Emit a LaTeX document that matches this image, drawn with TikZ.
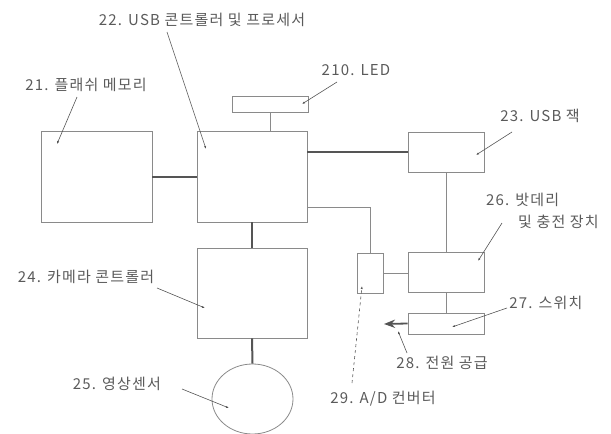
\documentclass[tikz,border=0pt]{standalone}
\usepackage{fontspec}
\setmainfont[LetterSpace=8]{Noto Sans CJK KR}
\usepackage{tikz}
\usetikzlibrary{arrows.meta,positioning,calc,shapes.geometric}
\definecolor{linegray}{HTML}{8A8A8A}
\definecolor{wiregray}{HTML}{555555}
\definecolor{textgray}{HTML}{5A5A5A}

\begin{document}
\begin{tikzpicture}[x=1pt,y=-1pt,>=Stealth,
    blk/.style={draw=linegray,line width=0.8pt,inner sep=0pt},
    wire/.style={draw=linegray,line width=0.8pt},
    bus/.style={draw=wiregray,line width=2pt},
    lbl/.style={text=textgray,font=\fontsize{15}{17}\selectfont,inner sep=1pt},
    lead/.style={draw=wiregray,line width=0.6pt,-{Latex[length=3pt,width=2.2pt]}}]
  \useasboundingbox (0,0) rectangle (611,434);
  % blocks
  \node[blk,minimum width=111pt,minimum height=91pt] (flash) at (96.5,176.5) {};
  \node[blk,minimum width=110pt,minimum height=91pt] (proc) at (252,176.5) {};
  \node[blk,minimum width=76pt,minimum height=16pt] (led) at (270,104) {};
  \node[blk,minimum width=76pt,minimum height=40pt] (jack) at (446,152) {};
  \node[blk,minimum width=76pt,minimum height=40pt] (batt) at (446,272) {};
  \node[blk,minimum width=26pt,minimum height=40pt] (adc) at (370,273) {};
  \node[blk,minimum width=76pt,minimum height=21pt] (sw) at (446,323.5) {};
  \node[blk,minimum width=110pt,minimum height=90pt] (cam) at (252,293) {};
  \node[blk,ellipse,minimum width=81pt,minimum height=70pt] (sens) at (252.5,399) {};
  \coordinate (pwr) at (384,324);
  % wires
  \draw[bus] (flash.east) -- (proc.west);
  \draw[bus,line width=1.5pt] (proc.east |- jack.west) -- (jack.west);
  \draw[bus] (proc.south) -- (cam.north);
  \draw[bus] (cam.south) -- (sens.north);
  \draw[wire] (led.south) -- (led.south |- proc.north);
  \draw[wire] (jack.south) -- (batt.north);
  \draw[wire] ($(proc.south east)+(0,-15)$) -| (adc.north);
  \draw[wire] (adc.east) -- (adc.east -| batt.west);
  \draw[wire] (batt.south) -- (sw.north);
  \draw[->,wiregray,line width=1.8pt] (sw.west) -- (pwr);
  % labels
  \node[lbl] (l22) at (202,20) {22. USB 콘트롤러 및 프로세서};
  \node[lbl] (l21) at (86,85) {21. 플래쉬 메모리};
  \node[lbl] (l210) at (356,70) {210. LED};
  \node[lbl] (l23) at (540,116) {23. USB 잭};
  \node[lbl,anchor=west] (l26) at (485,200) {26. 밧데리};
  \node[lbl,anchor=west] (l26b) at (517,222) {및 충전 장치};
  \node[lbl] (l27) at (546,303) {27. 스위치};
  \node[lbl] (l28) at (442,363) {28. 전원 공급};
  \node[lbl] (l29) at (383,399) {29. A/D 컨버터};
  \node[lbl] (l24) at (86,277) {24. 카메라 콘트롤러};
  \node[lbl] (l25) at (117,384) {25. 영상센서};
  % leader lines
  \coordinate (s21) at (77,97);   \coordinate (t21) at (57,144);
  \coordinate (s22) at (167,32);  \coordinate (t22) at (206,149);
  \coordinate (s210) at (337,82); \coordinate (t210) at (302,104);
  \coordinate (s23) at (512,132); \coordinate (t23) at (476,155);
  \coordinate (s26) at (502,223); \coordinate (t26) at (478,261);
  \coordinate (s27) at (507,308); \coordinate (t27) at (452,327);
  \coordinate (s28) at (407,353); \coordinate (t28) at (398,331);
  \coordinate (s29) at (352,383); \coordinate (t29) at (362,286);
  \coordinate (s24) at (157,288); \coordinate (t24) at (205,308);
  \coordinate (s25) at (182,389); \coordinate (t25) at (229,408);
  \foreach \n in {21,22,210,23,26,27,28,24,25}
    \draw[lead] (s\n) -- (t\n);
  \draw[lead,dashed] (s29) -- (t29);
\end{tikzpicture}
\end{document}
